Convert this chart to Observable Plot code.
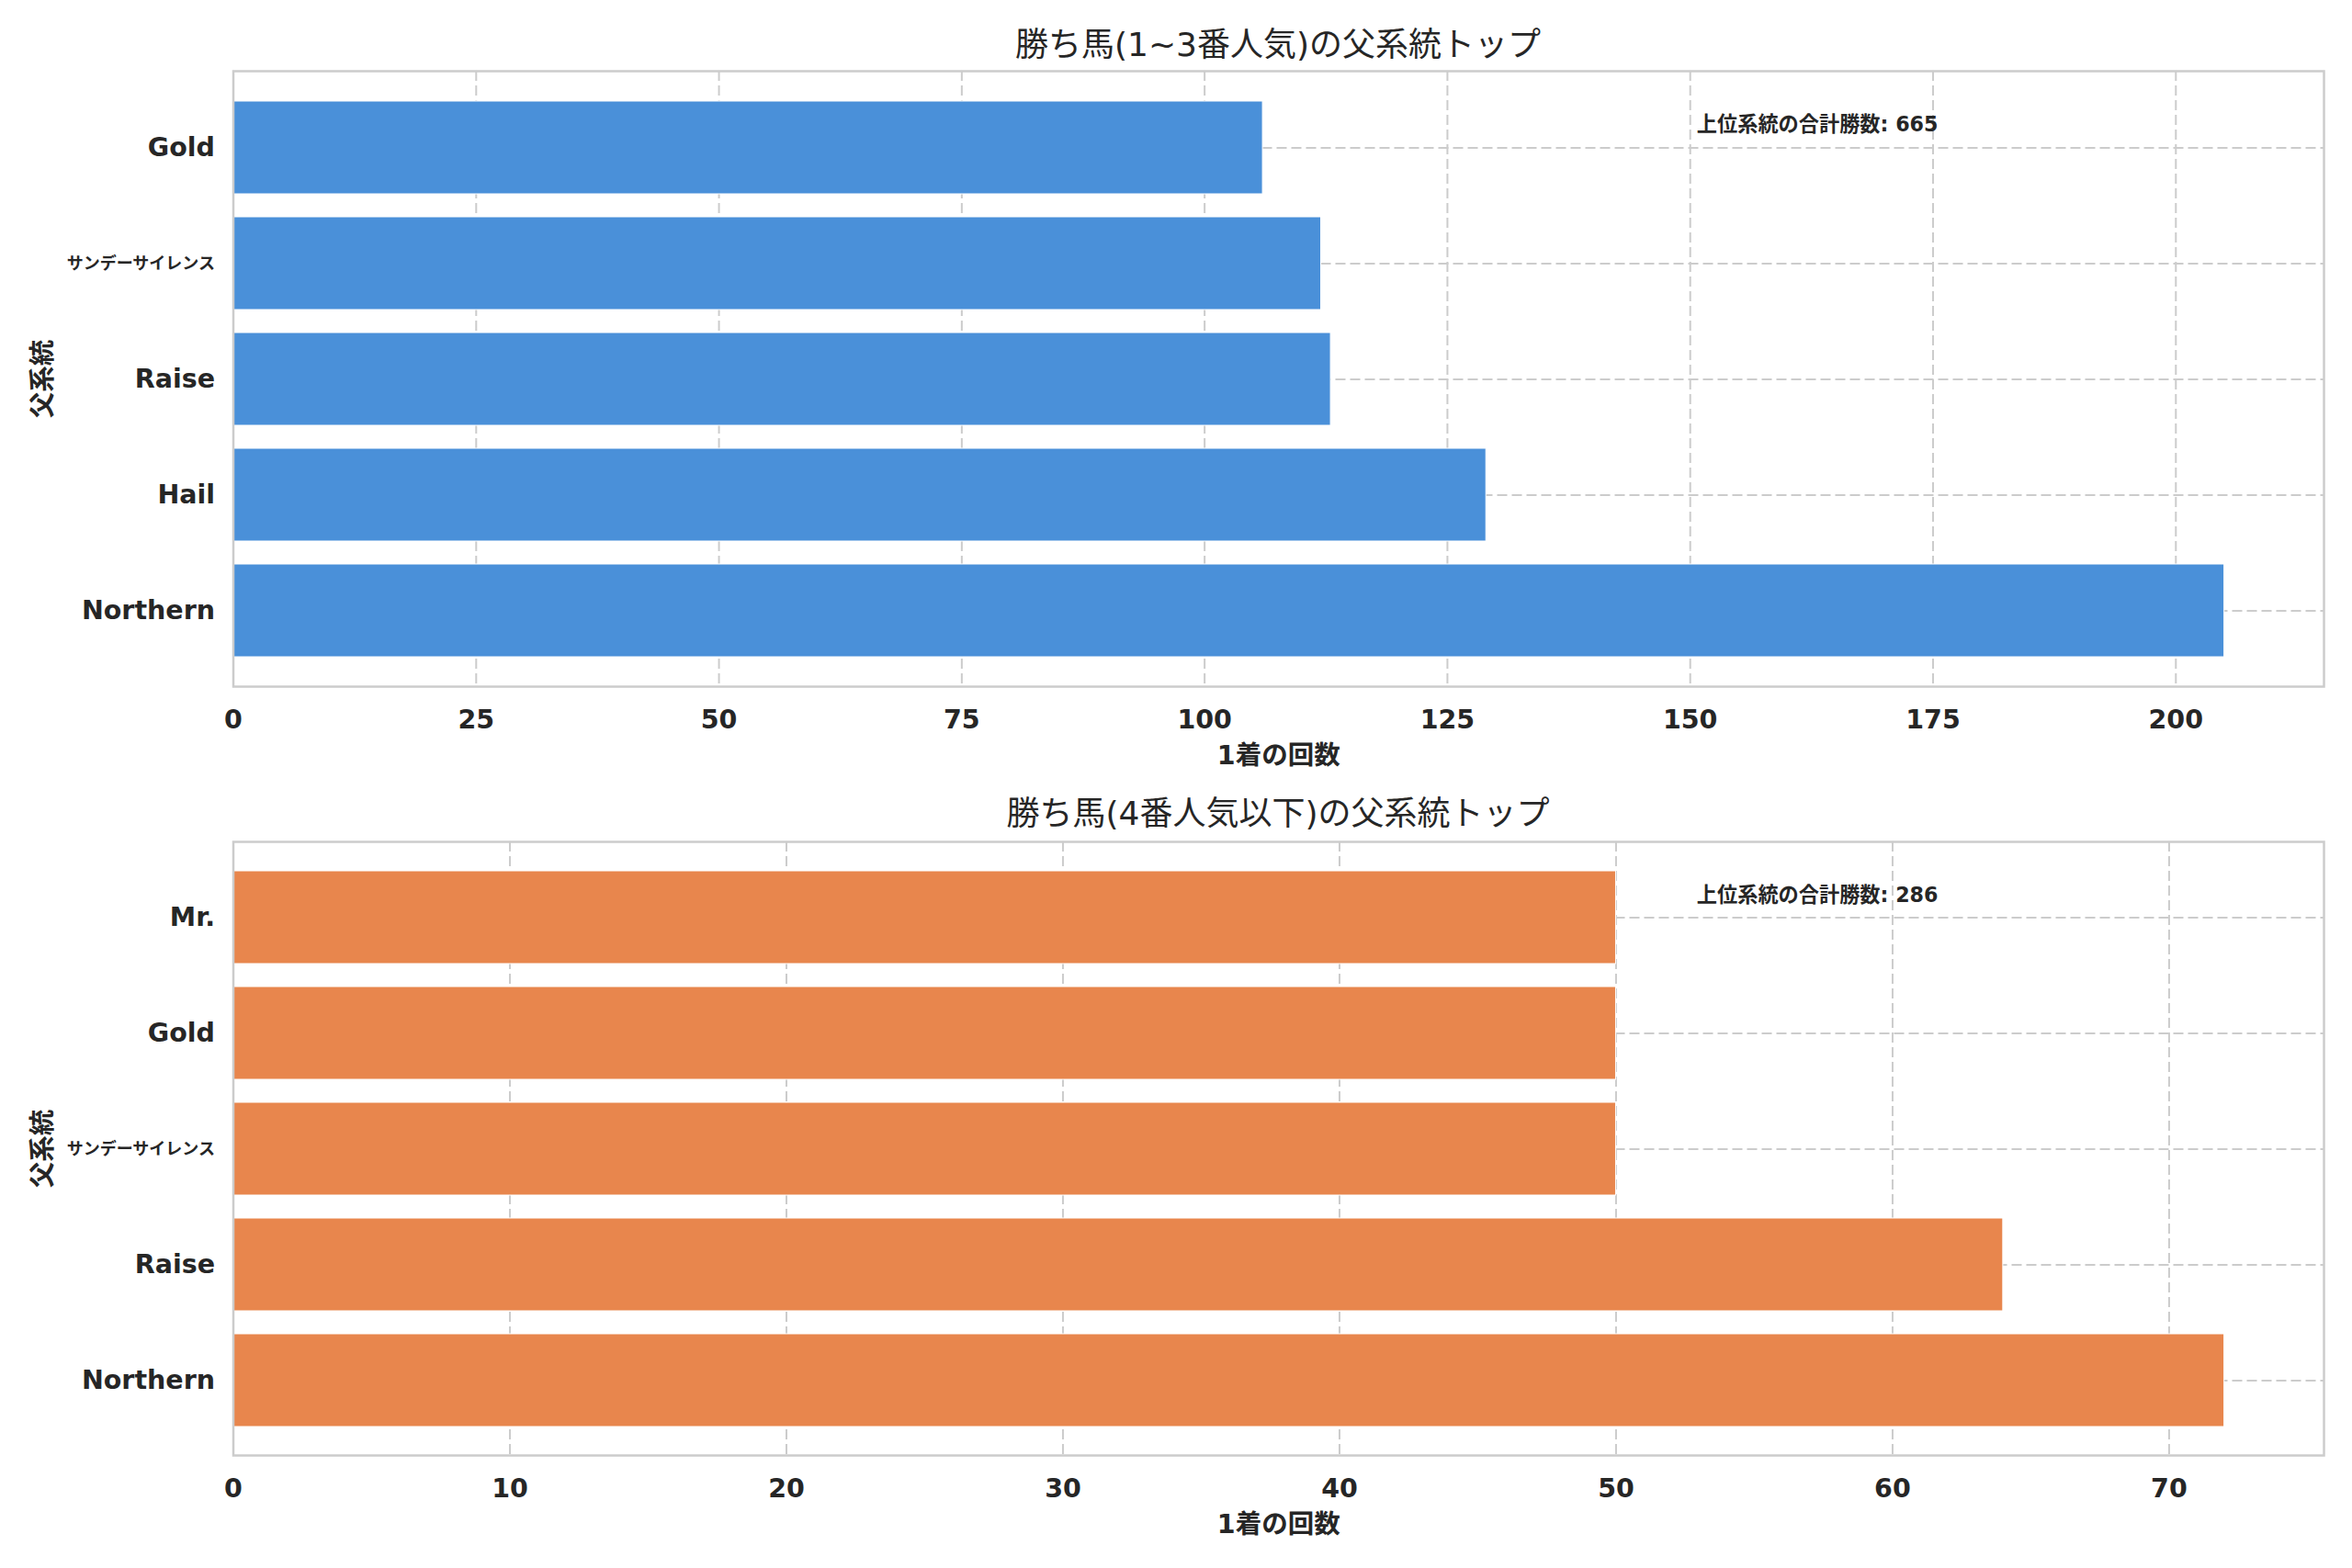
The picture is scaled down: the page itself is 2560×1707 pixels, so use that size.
<!DOCTYPE html>
<html>
<head>
<meta charset="utf-8">
<script src="https://cdn.jsdelivr.net/npm/d3@7"></script>
<script src="https://cdn.jsdelivr.net/npm/@observablehq/plot@0.6"></script>
<style>
  html, body { margin: 0; padding: 0; background: #ffffff; }
  #root { position: relative; width: 2560px; height: 1707px; font-family: "DejaVu Sans", "Noto Sans CJK JP", sans-serif; color: #262626; }
  .title { position: absolute; left: 253px; width: 2276px; text-align: center; font-size: 36px; line-height: 40px; font-weight: normal; color: #262626; z-index: 2; }
  .chart { position: absolute; left: 0; }
</style>
</head>
<body>
<div id="root">
  <div class="title" id="t1" style="top: 29px;"></div>
  <div class="chart" id="c1" style="top: 0px;"></div>
  <div class="title" id="t2" style="top: 866px;"></div>
  <div class="chart" id="c2" style="top: 847px;"></div>
</div>
<script>
// ---- data ----
const title1 = "勝ち馬(1~3番人気)の父系統トップ";
const title2 = "勝ち馬(4番人気以下)の父系統トップ";
const xLabel = "1着の回数";
const yLabel = "父系統";
const noteLabel = "上位系統の合計勝数";

const cats1 = ["Gold", "サンデーサイレンス", "Raise", "Hail", "Northern"];
const vals1 = [106, 112, 113, 129, 205];
const ticks1 = [0, 25, 50, 75, 100, 125, 150, 175, 200];

const cats2 = ["Mr.", "Gold", "サンデーサイレンス", "Raise", "Northern"];
const vals2 = [50, 50, 50, 64, 72];
const ticks2 = [0, 10, 20, 30, 40, 50, 60, 70];

const color1 = "#4a90d9";
const color2 = "#e8864d";

const FONT = '"DejaVu Sans", "Noto Sans CJK JP", sans-serif';
const isLongCJK = s => /[\u3040-\u30ff\u4e00-\u9fff]/.test(String(s)) && String(s).length > 5;

function makeChart(cats, vals, ticks, color, marginTop, innerHeight) {
  const data = cats.map((c, i) => ({cat: c, value: vals[i]}));
  const total = d3.sum(vals);
  const W = 2560, mL = 253.5, mR = 31, mB = 100;
  const frameW = W - mL - mR;
  const grid = {stroke: "#cccccc", strokeOpacity: 1, strokeWidth: 2, strokeDasharray: "11,5"};
  return Plot.plot({
    width: W,
    height: marginTop + innerHeight + mB,
    marginTop, marginBottom: mB, marginLeft: mL, marginRight: mR,
    style: {fontFamily: FONT, fontSize: "28.5px", color: "#262626", background: "transparent", overflow: "visible"},
    x: {domain: [0, d3.max(vals) * 1.05]},
    y: {domain: cats, paddingInner: 0.2, paddingOuter: 0.24},
    marks: [
      Plot.gridX(ticks, grid),
      Plot.gridY(cats, grid),
      Plot.barX(data, {x: "value", y: "cat", fill: color, stroke: "white", strokeWidth: 1}),
      Plot.axisX(ticks, {
        tickSize: 0, tickPadding: 25, fontWeight: "bold", fontSize: 28.5, fill: "#262626",
        label: xLabel, labelAnchor: "center", labelOffset: 84, labelArrow: "none"
      }),
      Plot.axisY({
        tickSize: 0, tickPadding: 20, fontWeight: "bold", fill: "#262626",
        fontSize: d => (isLongCJK(d) ? 18 : 28.5),
        label: null
      }),
      Plot.text([yLabel], {
        frameAnchor: "left", dx: -207, rotate: -90,
        textAnchor: "middle", lineAnchor: "middle",
        fontWeight: "bold", fontSize: 28.5, fill: "#262626"
      }),
      Plot.text([total], {
        frameAnchor: "top-left", dx: 0.7 * frameW, dy: 58,
        text: d => `${noteLabel}: ${d}`,
        textAnchor: "start", lineAnchor: "middle",
        fontWeight: "bold", fontSize: 22.2, fill: "#262626"
      }),
      Plot.frame({stroke: "#cccccc", strokeWidth: 2.5})
    ]
  });
}

document.getElementById("t1").textContent = title1;
document.getElementById("t2").textContent = title2;
document.getElementById("c1").appendChild(makeChart(cats1, vals1, ticks1, color1, 77, 670));
document.getElementById("c2").appendChild(makeChart(cats2, vals2, ticks2, color2, 69, 668));
</script>
</body>
</html>
